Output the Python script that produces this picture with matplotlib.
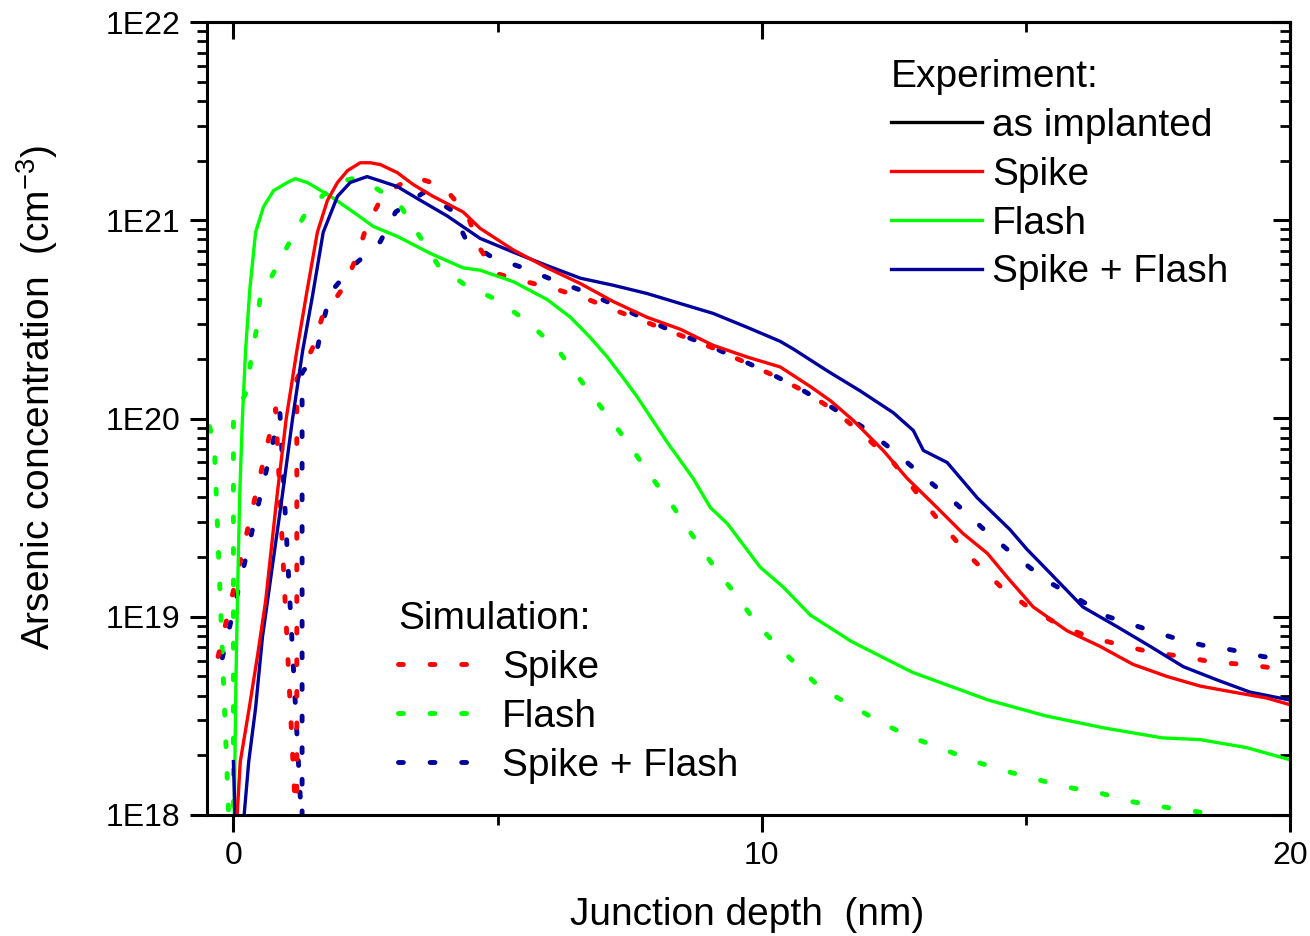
import matplotlib
matplotlib.use("Agg")
import matplotlib.pyplot as plt
from matplotlib.lines import Line2D
from matplotlib.ticker import LogLocator, MultipleLocator, NullFormatter

plt.rcParams["font.family"] = "Liberation Sans"
plt.rcParams["mathtext.fontset"] = "custom"
plt.rcParams["mathtext.rm"] = "Liberation Sans"
plt.rcParams["mathtext.default"] = "regular"

# ---------------------------------------------------------------------------
# Data: arsenic concentration (cm^-3) vs junction depth (nm)
# ---------------------------------------------------------------------------
# Experiment (SIMS), solid lines
exp_spike_depth = [0.07, 0.13, 0.30, 0.46, 0.61, 0.83, 1.00, 1.20, 1.40, 1.59,
                   1.78, 1.97, 2.16, 2.40, 2.59, 2.78, 3.10, 3.41, 3.78, 4.35,
                   4.67, 5.30, 5.94, 6.57, 7.19, 7.83, 8.46, 9.08, 9.73, 10.35,
                   10.92, 11.30, 11.73, 12.30, 12.75, 13.32, 13.81, 14.27, 14.65, 15.14,
                   15.78, 16.40, 17.03, 17.67, 18.30, 18.92, 19.56, 20.0]
exp_spike_conc = [1.0e18, 1.86e18, 3.47e18, 6.46e18, 1.2e19, 4.17e19, 1.0e20, 2.19e20, 4.5e20, 8.71e20,
                  1.26e21, 1.55e21, 1.78e21, 1.95e21, 1.95e21, 1.91e21, 1.74e21, 1.51e21, 1.32e21, 1.10e21,
                  9.1e20, 7.08e20, 5.75e20, 4.79e20, 3.89e20, 3.24e20, 2.82e20, 2.34e20, 2.04e20, 1.82e20,
                  1.45e20, 1.23e20, 9.8e19, 6.9e19, 5.0e19, 3.55e19, 2.63e19, 2.09e19, 1.58e19, 1.12e19,
                  8.5e18, 7.1e18, 5.75e18, 5.0e18, 4.47e18, 4.17e18, 3.89e18, 3.6e18]

exp_flash_depth = [0.01, 0.05, 0.09, 0.12, 0.17, 0.23, 0.31, 0.42, 0.57, 0.76,
                   1.02, 1.17, 1.40, 1.84, 2.27, 2.65, 3.10, 3.73, 4.35, 4.67,
                   5.30, 5.94, 6.38, 6.75, 7.08, 7.42, 7.64, 8.21, 8.70, 9.03,
                   9.35, 9.97, 10.41, 10.92, 11.70, 12.85, 14.29, 15.38, 16.48, 17.58,
                   18.30, 19.17, 20.0]
exp_flash_conc = [8e17, 5.2e18, 1.82e19, 4.17e19, 1.0e20, 2.19e20, 4.47e20, 8.7e20, 1.17e21, 1.41e21,
                  1.55e21, 1.62e21, 1.55e21, 1.32e21, 1.10e21, 9.3e20, 8.3e20, 6.8e20, 5.75e20, 5.6e20,
                  4.9e20, 3.98e20, 3.24e20, 2.57e20, 2.04e20, 1.55e20, 1.29e20, 7.6e19, 5.0e19, 3.55e19,
                  2.95e19, 1.78e19, 1.41e19, 1.02e19, 7.5e18, 5.25e18, 3.8e18, 3.16e18, 2.75e18, 2.45e18,
                  2.4e18, 2.19e18, 1.9e18]

exp_both_depth = [0.0, 0.04, 0.17, 0.29, 0.42, 0.55, 0.74, 0.93, 1.12, 1.31,
                  1.50, 1.70, 1.97, 2.21, 2.53, 2.78, 3.10, 3.54, 4.05, 4.67,
                  5.30, 5.94, 6.57, 7.19, 7.83, 8.46, 9.08, 9.73, 10.35, 10.60,
                  11.24, 11.86, 12.49, 12.87, 13.06, 13.51, 14.08, 14.70, 15.02, 15.46,
                  16.08, 16.73, 17.35, 17.98, 18.62, 19.24, 20.0]
exp_both_conc = [1.86e18, 7.9e17, 7.9e17, 1.86e18, 3.47e18, 7.9e18, 1.82e19, 4.17e19, 1.0e20, 2.19e20,
                 4.2e20, 8.7e20, 1.32e21, 1.55e21, 1.66e21, 1.58e21, 1.48e21, 1.26e21, 1.05e21, 8.1e20,
                 6.9e20, 5.9e20, 5.1e20, 4.7e20, 4.27e20, 3.8e20, 3.39e20, 2.88e20, 2.45e20, 2.24e20,
                 1.74e20, 1.38e20, 1.07e20, 8.7e19, 6.9e19, 6.0e19, 3.98e19, 2.75e19, 2.19e19, 1.66e19,
                 1.12e19, 8.9e18, 7.1e18, 5.6e18, 4.8e18, 4.17e18, 3.8e18]

# Simulation, dotted lines
sim_spike_depth = [-0.29, 0.80, 1.16, 1.18, 1.20, 1.20, 1.49, 1.68, 2.08, 2.33,
                   2.52, 2.84, 3.41, 3.97, 4.43, 4.64, 4.96, 5.54, 6.13, 6.72,
                   7.28, 7.87, 8.46, 9.04, 9.63, 10.20, 10.79, 11.37, 11.92, 12.49,
                   12.98, 13.43, 13.95, 14.51, 15.04, 15.63, 16.20, 16.80, 17.39, 17.98,
                   18.54, 19.13, 19.72, 20.0]
sim_spike_conc = [6.3e18, 1.12e20, 1.23e18, 7.9e17, 7.9e17, 1.58e20, 2.24e20, 3.24e20, 4.57e20, 6.5e20,
                  9.3e20, 1.35e21, 1.66e21, 1.48e21, 1.07e21, 7.4e20, 5.4e20, 4.9e20, 4.47e20, 3.98e20,
                  3.47e20, 3.02e20, 2.63e20, 2.29e20, 1.95e20, 1.66e20, 1.38e20, 1.10e20, 8.3e19, 6.0e19,
                  4.07e19, 2.88e19, 2.0e19, 1.43e19, 1.12e19, 9.1e18, 7.9e18, 7.2e18, 6.6e18, 6.3e18,
                  5.9e18, 5.75e18, 5.5e18, 5.4e18]

sim_flash_depth = [-0.45, -0.36, -0.09, -0.07, 0.0, 0.0, 0.24, 0.33, 0.43, 0.50,
                   0.77, 1.10, 1.42, 1.97, 2.25, 2.53, 3.12, 3.50, 3.88, 4.39,
                   4.98, 5.56, 6.13, 6.58, 7.04, 7.46, 7.87, 8.29, 8.69, 9.08,
                   9.54, 9.95, 10.53, 11.11, 11.71, 12.30, 12.87, 13.45, 14.04, 14.64,
                   15.21, 15.80, 16.41, 16.99, 17.58, 18.15, 18.73, 20.0]
sim_flash_conc = [9.1e19, 7.2e19, 1.0e18, 7.9e17, 7.9e17, 1.02e20, 1.35e20, 1.95e20, 2.75e20, 3.98e20,
                  5.5e20, 8.1e20, 1.15e21, 1.55e21, 1.62e21, 1.55e21, 1.23e21, 8.5e20, 5.9e20, 4.7e20,
                  3.98e20, 3.09e20, 2.24e20, 1.55e20, 1.07e20, 7.6e19, 5.25e19, 3.7e19, 2.57e19, 1.82e19,
                  1.26e19, 8.9e18, 6.2e18, 4.37e18, 3.55e18, 2.88e18, 2.45e18, 2.14e18, 1.86e18, 1.66e18,
                  1.51e18, 1.38e18, 1.29e18, 1.17e18, 1.10e18, 1.05e18, 9.8e17, 8.5e17]

sim_both_depth = [-0.21, 0.88, 1.27, 1.29, 1.30, 1.30, 1.57, 1.70, 1.85, 2.27,
                  2.78, 3.07, 3.60, 4.14, 4.41, 4.90, 5.49, 6.05, 6.64, 7.23,
                  7.81, 8.40, 8.99, 9.56, 10.14, 10.73, 11.30, 11.90, 12.49, 13.06,
                  13.64, 14.25, 14.82, 15.41, 15.99, 16.56, 17.14, 17.75, 18.33, 18.90,
                  19.49, 20.0]
sim_both_conc = [6.2e18, 1.07e20, 1.17e18, 7.9e17, 7.9e17, 1.70e20, 2.14e20, 3.09e20, 4.37e20, 5.9e20,
                 7.8e20, 1.10e21, 1.38e21, 1.12e21, 7.9e20, 6.5e20, 5.75e20, 5.0e20, 4.37e20, 3.72e20,
                 3.16e20, 2.69e20, 2.34e20, 2.0e20, 1.70e20, 1.41e20, 1.15e20, 9.1e19, 6.9e19, 5.1e19,
                 3.8e19, 2.69e19, 2.0e19, 1.51e19, 1.23e19, 1.0e19, 8.9e18, 7.9e18, 7.2e18, 6.8e18,
                 6.3e18, 6.0e18]

exp_labels = ["as implanted", "Spike", "Flash", "Spike + Flash"]
sim_labels = ["Spike", "Flash", "Spike + Flash"]

x_ticks = [0, 10, 20]
x_tick_labels = ["0", "10", "20"]
y_ticks = [1e18, 1e19, 1e20, 1e21, 1e22]
y_tick_labels = ["1E18", "1E19", "1E20", "1E21", "1E22"]

RED = "#ff0000"
GREEN = "#00ff00"
NAVY = "#00009c"
SOLID = dict(lw=2.4)
DOTTED = dict(lw=3.5, ls=(0, (1, 5.5)), dash_capstyle="round")

# ---------------------------------------------------------------------------
W, H = 1310, 936
fig = plt.figure(figsize=(W / 100, H / 100), dpi=100)
ax = fig.add_axes([207 / W, 1 - 815 / H, (1290 - 207) / W, (815 - 22) / H])

ax.plot(sim_both_depth, sim_both_conc, color=NAVY, **DOTTED)
ax.plot(sim_flash_depth, sim_flash_conc, color=GREEN, **DOTTED)
ax.plot(sim_spike_depth, sim_spike_conc, color=RED, **DOTTED)
ax.plot(exp_flash_depth, exp_flash_conc, color=GREEN, **SOLID)
ax.plot(exp_both_depth, exp_both_conc, color=NAVY, **SOLID)
ax.plot(exp_spike_depth, exp_spike_conc, color=RED, **SOLID)

ax.set_yscale("log")
ax.set_xlim(-0.5, 20)
ax.set_ylim(1e18, 1e22)

ax.set_xticks(x_ticks, x_tick_labels)
ax.xaxis.set_minor_locator(MultipleLocator(5))
ax.set_yticks(y_ticks, y_tick_labels)
ax.yaxis.set_minor_locator(LogLocator(base=10, subs=range(2, 10)))
ax.yaxis.set_minor_formatter(NullFormatter())

for s in ax.spines.values():
    s.set_linewidth(2.2)
ax.tick_params(which="both", direction="out", top=False, right=False,
               labelsize=23, pad=7)
ax.tick_params(which="major", length=12, width=2.2)
ax.tick_params(which="minor", length=7, width=2.0)

# inward ticks on top and right
top = ax.secondary_xaxis("top")
top.xaxis.set_major_locator(MultipleLocator(10))
top.xaxis.set_minor_locator(MultipleLocator(5))
top.tick_params(which="both", direction="in", labeltop=False, labelbottom=False)
top.tick_params(which="major", length=12, width=2.2)
top.tick_params(which="minor", length=7, width=2.0)
top.spines["top"].set_linewidth(2.2)

right = ax.secondary_yaxis("right")
right.yaxis.set_major_locator(LogLocator(base=10))
right.yaxis.set_minor_locator(LogLocator(base=10, subs=range(2, 10)))
right.yaxis.set_major_formatter(NullFormatter())
right.yaxis.set_minor_formatter(NullFormatter())
right.tick_params(which="both", direction="in")
right.tick_params(which="major", length=12, width=2.2)
right.tick_params(which="minor", length=7, width=2.0)
right.spines["right"].set_linewidth(2.2)

ax.set_xlabel("Junction depth  (nm)", fontsize=28)
ax.xaxis.set_label_coords(0.4986, -0.103)
ax.set_ylabel("Arsenic concentration  (cm$^{-3}$)", fontsize=28)
ax.yaxis.set_label_coords(-0.136, 0.526)

# legends
exp_handles = [Line2D([], [], color=c, **SOLID) for c in ["black", RED, GREEN, NAVY]]
leg1 = ax.legend(exp_handles, exp_labels, title="Experiment:", loc="upper left",
                 bbox_to_anchor=(891 / W, 1 - 59 / H), bbox_transform=fig.transFigure,
                 frameon=False, fontsize=28, title_fontsize=28, handlelength=2.34,
                 handletextpad=0.26, labelspacing=0.33, borderpad=0, borderaxespad=0,
                 alignment="left")
ax.add_artist(leg1)

sim_handles = [Line2D([], [], color=c, **DOTTED) for c in [RED, GREEN, NAVY]]
ax.legend(sim_handles, sim_labels, title="Simulation:", loc="upper left",
          bbox_to_anchor=(398 / W, 1 - 601 / H), bbox_transform=fig.transFigure,
          frameon=False, fontsize=28, title_fontsize=28, handlelength=1.85,
          handletextpad=0.82, labelspacing=0.33, borderpad=0, borderaxespad=0,
          alignment="left")

fig.savefig("out.png", dpi=100, facecolor="white")
